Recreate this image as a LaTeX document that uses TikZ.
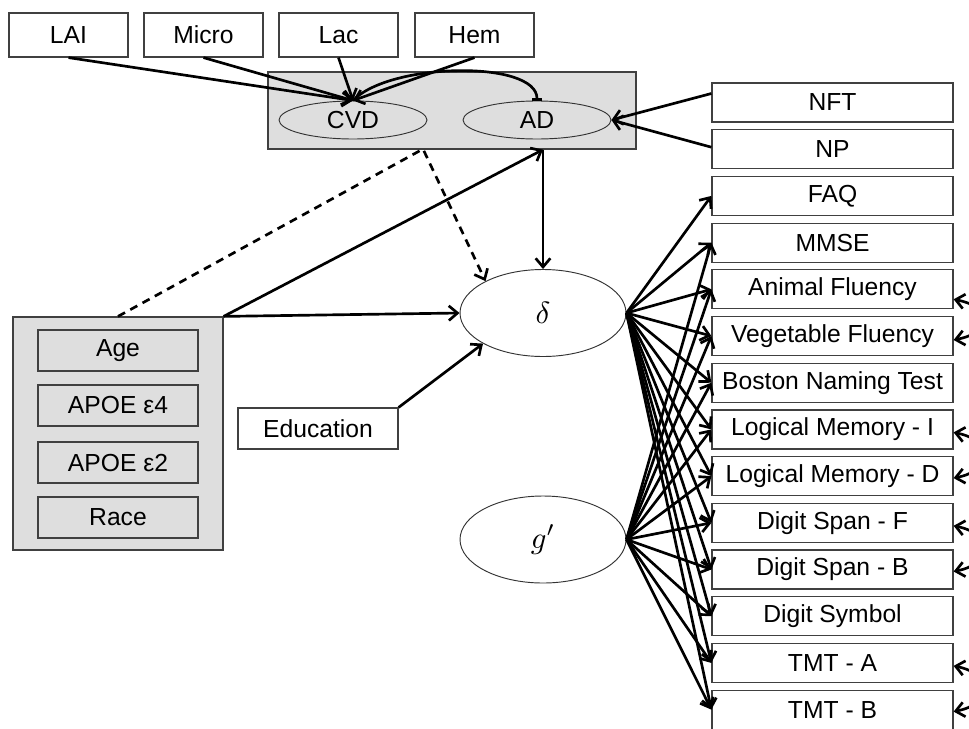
\documentclass[tikz,border=0pt]{standalone}
\usepackage[no-math]{fontspec}
\setmainfont{Liberation Sans}
\usetikzlibrary{arrows.meta,shapes.geometric,calc}
\definecolor{boxgray}{HTML}{DEDEDE}
\begin{document}
\begin{tikzpicture}[x=0.75pt,y=-0.75pt,
  every node/.style={font=\fontsize{18.5}{21}\selectfont, inner sep=0pt},
  box/.style={draw=black!75, line width=0.9pt, fill=white, rectangle},
  topbox/.style={box, minimum width=89.25pt, minimum height=33pt},
  testbox/.style={box, minimum width=180.75pt, minimum height=29.25pt},
  demobox/.style={box, fill=boxgray, minimum width=120pt, minimum height=30.75pt},
  grpbox/.style={draw=black!75, line width=0.9pt, fill=boxgray, rectangle},
  lat/.style={draw=black!80, line width=0.7pt, ellipse, fill=white, minimum width=124.5pt, minimum height=65.25pt},
  latlbl/.style={font=\normalsize, scale=2.3},
  sublat/.style={draw=black!80, line width=0.7pt, ellipse, fill=boxgray, minimum width=111pt, minimum height=28.5pt},
  tipb/.tip={Straight Barb[length=6.5pt,width=11pt]},
  conn/.style={line width=2pt, -tipb},
  corr/.style={line width=2pt, tipb-tipb},
  barconn/.style={line width=2pt, -{Bar[width=8pt]}}
]
\useasboundingbox (0,0) rectangle (969,728);

% top indicator boxes
\node[topbox] (LAI) at (68.5,35) {LAI};
\node[topbox] (Micro) at (203.5,35) {Micro};
\node[topbox] (Lac) at (338.5,35) {Lac};
\node[topbox] (Hem) at (474.5,35) {Hem};

% pathology group
\node[grpbox, minimum width=276pt, minimum height=57.75pt] (grp) at (452,110.5) {};
\node[sublat] (CVD) at (353,120) {CVD};
\node[sublat] (AD) at (537,120) {AD};

% right boxes
\foreach \n/\t [count=\k from 0] in {NFT/NFT, NP/NP, FAQ/FAQ, MMSE/MMSE,
  AF/Animal Fluency, VF/Vegetable Fluency, BNT/Boston Naming Test,
  LMI/Logical Memory - I, LMD/Logical Memory - D, DSF/Digit Span - F,
  DSB/Digit Span - B, DSY/Digit Symbol, TMTA/TMT - A, TMTB/TMT - B}
  \node[testbox] (\n) at (832.5,{102.5+46.7*\k}) {\t};

% demographics
\node[grpbox, minimum width=157.5pt, minimum height=174.75pt] (demo) at (118,433.5) {};
\node[demobox] (age) at (118,350.5) {Age};
\node[demobox] (e4) at (118,405.5) {APOE ε4};
\node[demobox] (e2) at (118,462.5) {APOE ε2};
\node[demobox] (race) at (118,517.5) {Race};

\node[box, minimum width=120pt, minimum height=30.75pt] (edu) at (318,428.5) {Education};

% latent factors
\node[lat] (delta) at (543,313) {};
\node[latlbl] (deltalbl) at (543,313) {$\delta$};
\node[lat] (gp) at (543,539.5) {};
\node[latlbl] (gplbl) at (543,539.5) {$g'$};

\coordinate (gA) at (423,149);
\coordinate (gB) at (delta.north |- grp.south);

% top arrows
\foreach \n in {LAI,Micro,Lac,Hem}
  \draw[conn] (\n.south) -- (CVD.north);
\draw[barconn] (CVD.north) .. controls (390,62) and (537,60) .. (AD.north);

% NFT / NP
\draw[conn] ($(NFT.west)+(0,-9)$) -- (AD.east);
\draw[conn] ($(NP.west)+(0,-2)$) -- (AD.east);

% structural paths
\draw[conn] (gB) -- (delta.north);
\draw[conn] (demo.north east) -- (gB);
\draw[conn] (demo.north east) -- (delta.west);
\draw[conn, dashed, dash pattern=on 6pt off 4.5pt] (demo.north) -- (gA) -- (delta.151);
\draw[conn] (edu.north east) -- (delta.207);

% loadings
\foreach \n in {FAQ,MMSE,AF,VF,BNT,LMI,LMD,DSF,DSB,DSY,TMTA,TMTB}
  \draw[conn] (delta.east) -- (\n.west);
\foreach \n in {MMSE,AF,VF,BNT,LMI,LMD,DSF,DSB,DSY,TMTA,TMTB}
  \draw[conn] (gp.east) -- (\n.west);

% residual covariances (cut at the right edge)
\draw[corr] ($(AF.east)+(0,10)$) .. controls +(40,8) and +(40,-8) .. ($(VF.east)+(0,4)$);
\foreach \a/\b in {LMI/LMD, DSF/DSB, TMTA/TMTB}
  \draw[corr] ($(\a.east)+(0,3)$) .. controls +(40,8) and +(40,-8) .. ($(\b.east)+(0,2)$);
\end{tikzpicture}
\end{document}
